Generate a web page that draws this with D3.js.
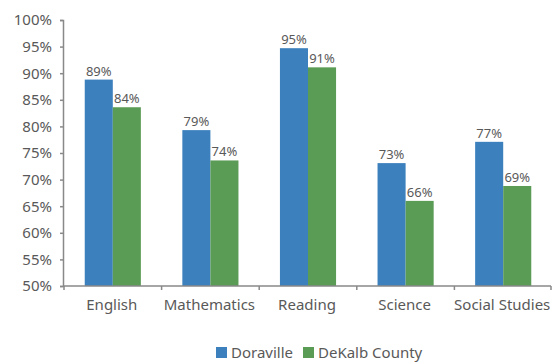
<!DOCTYPE html>
<html><head><meta charset="utf-8">
<script src="https://cdn.jsdelivr.net/npm/d3@7"></script>
<style>body{margin:0;background:#fff}svg{display:block}text{font-family:"Noto Sans",sans-serif;fill:#595959}</style>
</head><body>
<script>
const categories = ["English","Mathematics","Reading","Science","Social Studies"];
const seriesNames = ["Doraville","DeKalb County"];
const doraville = [88.8, 79.3, 94.7, 73.1, 77.1];
const dekalb = [83.6, 73.6, 91.1, 66.0, 68.8];
const yTicks = [50,55,60,65,70,75,80,85,90,95,100];
const colors = ["#3C80BE","#5A9B55"];

(function(){
const W=552,H=364, mL=63, mR=551, mT=20, mB=286;
const svg=d3.select("body").append("svg").attr("width",W).attr("height",H);
const x=d3.scaleBand().domain(categories).range([mL+1,mR+1]).paddingInner(0.425).paddingOuter(0.2125);
const x1=d3.scaleBand().domain(seriesNames).range([0,x.bandwidth()]);
const y=d3.scaleLinear().domain([50,100]).range([mB,mT]);
const data=[doraville,dekalb];

const g=svg.append("g");
seriesNames.forEach((s,si)=>{
  g.selectAll(null).data(categories).enter().append("rect")
   .attr("x",c=>x(c)+x1(s)).attr("width",x1.bandwidth())
   .attr("y",(c,i)=>y(data[si][i])).attr("height",(c,i)=>mB-y(data[si][i]))
   .attr("fill",colors[si]);
  g.selectAll(null).data(categories).enter().append("text")
   .attr("x",c=>x(c)+x1(s)+x1.bandwidth()/2).attr("y",(c,i)=>y(data[si][i])-4)
   .attr("text-anchor","middle").style("font-size","13px")
   .text((c,i)=>Math.round(data[si][i])+"%");
});

const ya=svg.append("g").attr("transform",`translate(${mL},0)`)
 .call(d3.axisLeft(y).tickValues(yTicks).tickSize(3).tickFormat(d=>d+"%"));
ya.select(".domain").attr("stroke","#898989").attr("stroke-width",1.5);
ya.selectAll(".tick line").attr("stroke","#898989").attr("stroke-width",1.5);
ya.selectAll("text").style("font-size","15px").attr("x",-11).attr("fill","#595959");

const xa=svg.append("g").attr("transform",`translate(0,${mB})`);
xa.append("line").attr("x1",mL).attr("x2",mR).attr("stroke","#898989").attr("stroke-width",1.5);
const bounds=categories.map(c=>x(c)-x.step()*x.paddingInner()/2).concat([mR]);
xa.selectAll(null).data(bounds).enter().append("line")
 .attr("x1",d=>d).attr("x2",d=>d).attr("y1",0).attr("y2",4).attr("stroke","#898989").attr("stroke-width",1.5);
xa.selectAll(null).data(categories).enter().append("text")
 .attr("x",c=>x(c)+x.bandwidth()/2-1).attr("y",24).attr("text-anchor","middle")
 .style("font-size","15px").text(c=>c);

const lg=svg.append("g");
const lx=[216,303];
seriesNames.forEach((s,i)=>{
  lg.append("rect").attr("x",lx[i]).attr("y",347).attr("width",11).attr("height",11).attr("fill",colors[i]);
  lg.append("text").attr("x",lx[i]+15).attr("y",358).style("font-size","15px").text(s);
});
})();
</script>
</body></html>
